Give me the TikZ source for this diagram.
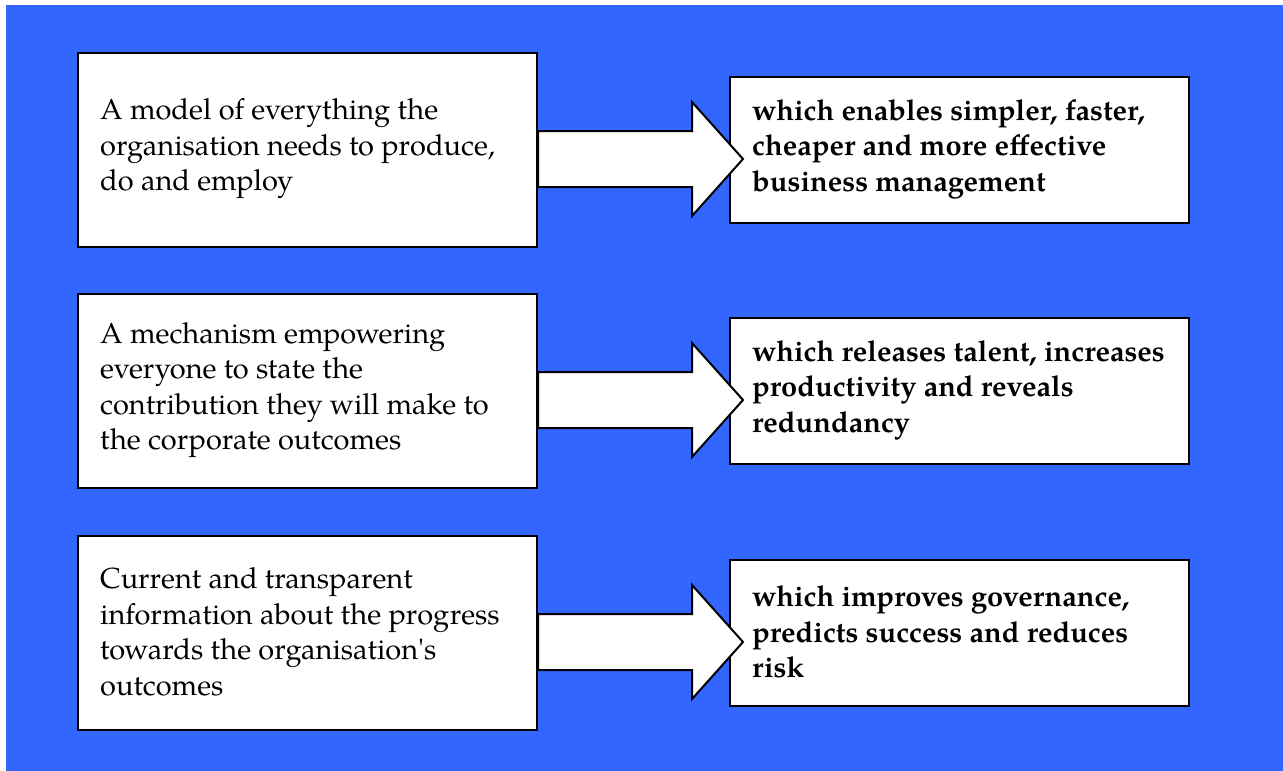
\documentclass[tikz,border=0pt]{standalone}
\usepackage{fontspec}
\setmainfont{TeX Gyre Pagella}[Ligatures=TeXOff]
\usetikzlibrary{calc}

\definecolor{panelblue}{RGB}{51,102,255}

\tikzset{
  panel/.style={fill=panelblue, draw=none},
  box/.style={draw=black, line width=2pt, fill=white, rectangle,
    minimum width=459pt, inner sep=0pt},
  causebox/.style={box, minimum height=194pt},
  effectbox/.style={box, minimum height=146pt},
  boxtext/.style={anchor=west, inner sep=0pt, align=left,
    font=\fontsize{29}{35.5}\selectfont},
  causetext/.style={boxtext},
  effecttext/.style={boxtext, font=\fontsize{29}{35.5}\selectfont\bfseries},
  blockarrow/.style={draw=black, line width=2pt, fill=white, line join=miter},
}

% block arrow from the right side of one box towards the next
\newcommand{\blockarrowfrom}[1]{%
  \draw[blockarrow] ($(#1.east)+(0,9)$) ++(0,-28) -- ++(154,0) -- ++(0,-29)
    -- ++(51,57) -- ++(-51,57) -- ++(0,-29) -- ++(-154,0) -- cycle;}

\begin{document}
\begin{tikzpicture}[x=1pt, y=-1pt]
  \useasboundingbox (0,0) rectangle (1283,771);
  \fill[panel] (6,5) rectangle (1283,771);

  % left column: what is provided
  \node[causebox] (L1) at (307.5,150) {};
  \node[causebox] (L2) at (307.5,391) {};
  \node[causebox] (L3) at (307.5,633) {};

  % right column: what it brings
  \node[effectbox] (R1) at (959.5,150) {};
  \node[effectbox] (R2) at (959.5,391) {};
  \node[effectbox] (R3) at (959.5,633) {};

  \node[causetext] (L1t) at ($(L1.west)+(23,-1)$)
    {A model of everything the\\organisation needs to produce,\\do and employ};
  \node[causetext] (L2t) at ($(L2.west)+(23,-1)$)
    {A mechanism empowering\\everyone to state the\\contribution they will make to\\the corporate outcomes};
  \node[causetext] (L3t) at ($(L3.west)+(23,-1)$)
    {Current and transparent\\information about the progress\\towards the organisation's\\outcomes};

  \node[effecttext] (R1t) at ($(R1.west)+(23,-1)$)
    {which enables simpler, faster,\\cheaper and more effective\\business management};
  \node[effecttext] (R2t) at ($(R2.west)+(23,-1)$)
    {which releases talent, increases\\productivity and reveals\\redundancy};
  \node[effecttext] (R3t) at ($(R3.west)+(23,-1)$)
    {which improves governance,\\predicts success and reduces\\risk};

  % arrows linking each pair
  \blockarrowfrom{L1}
  \blockarrowfrom{L2}
  \blockarrowfrom{L3}
\end{tikzpicture}
\end{document}
